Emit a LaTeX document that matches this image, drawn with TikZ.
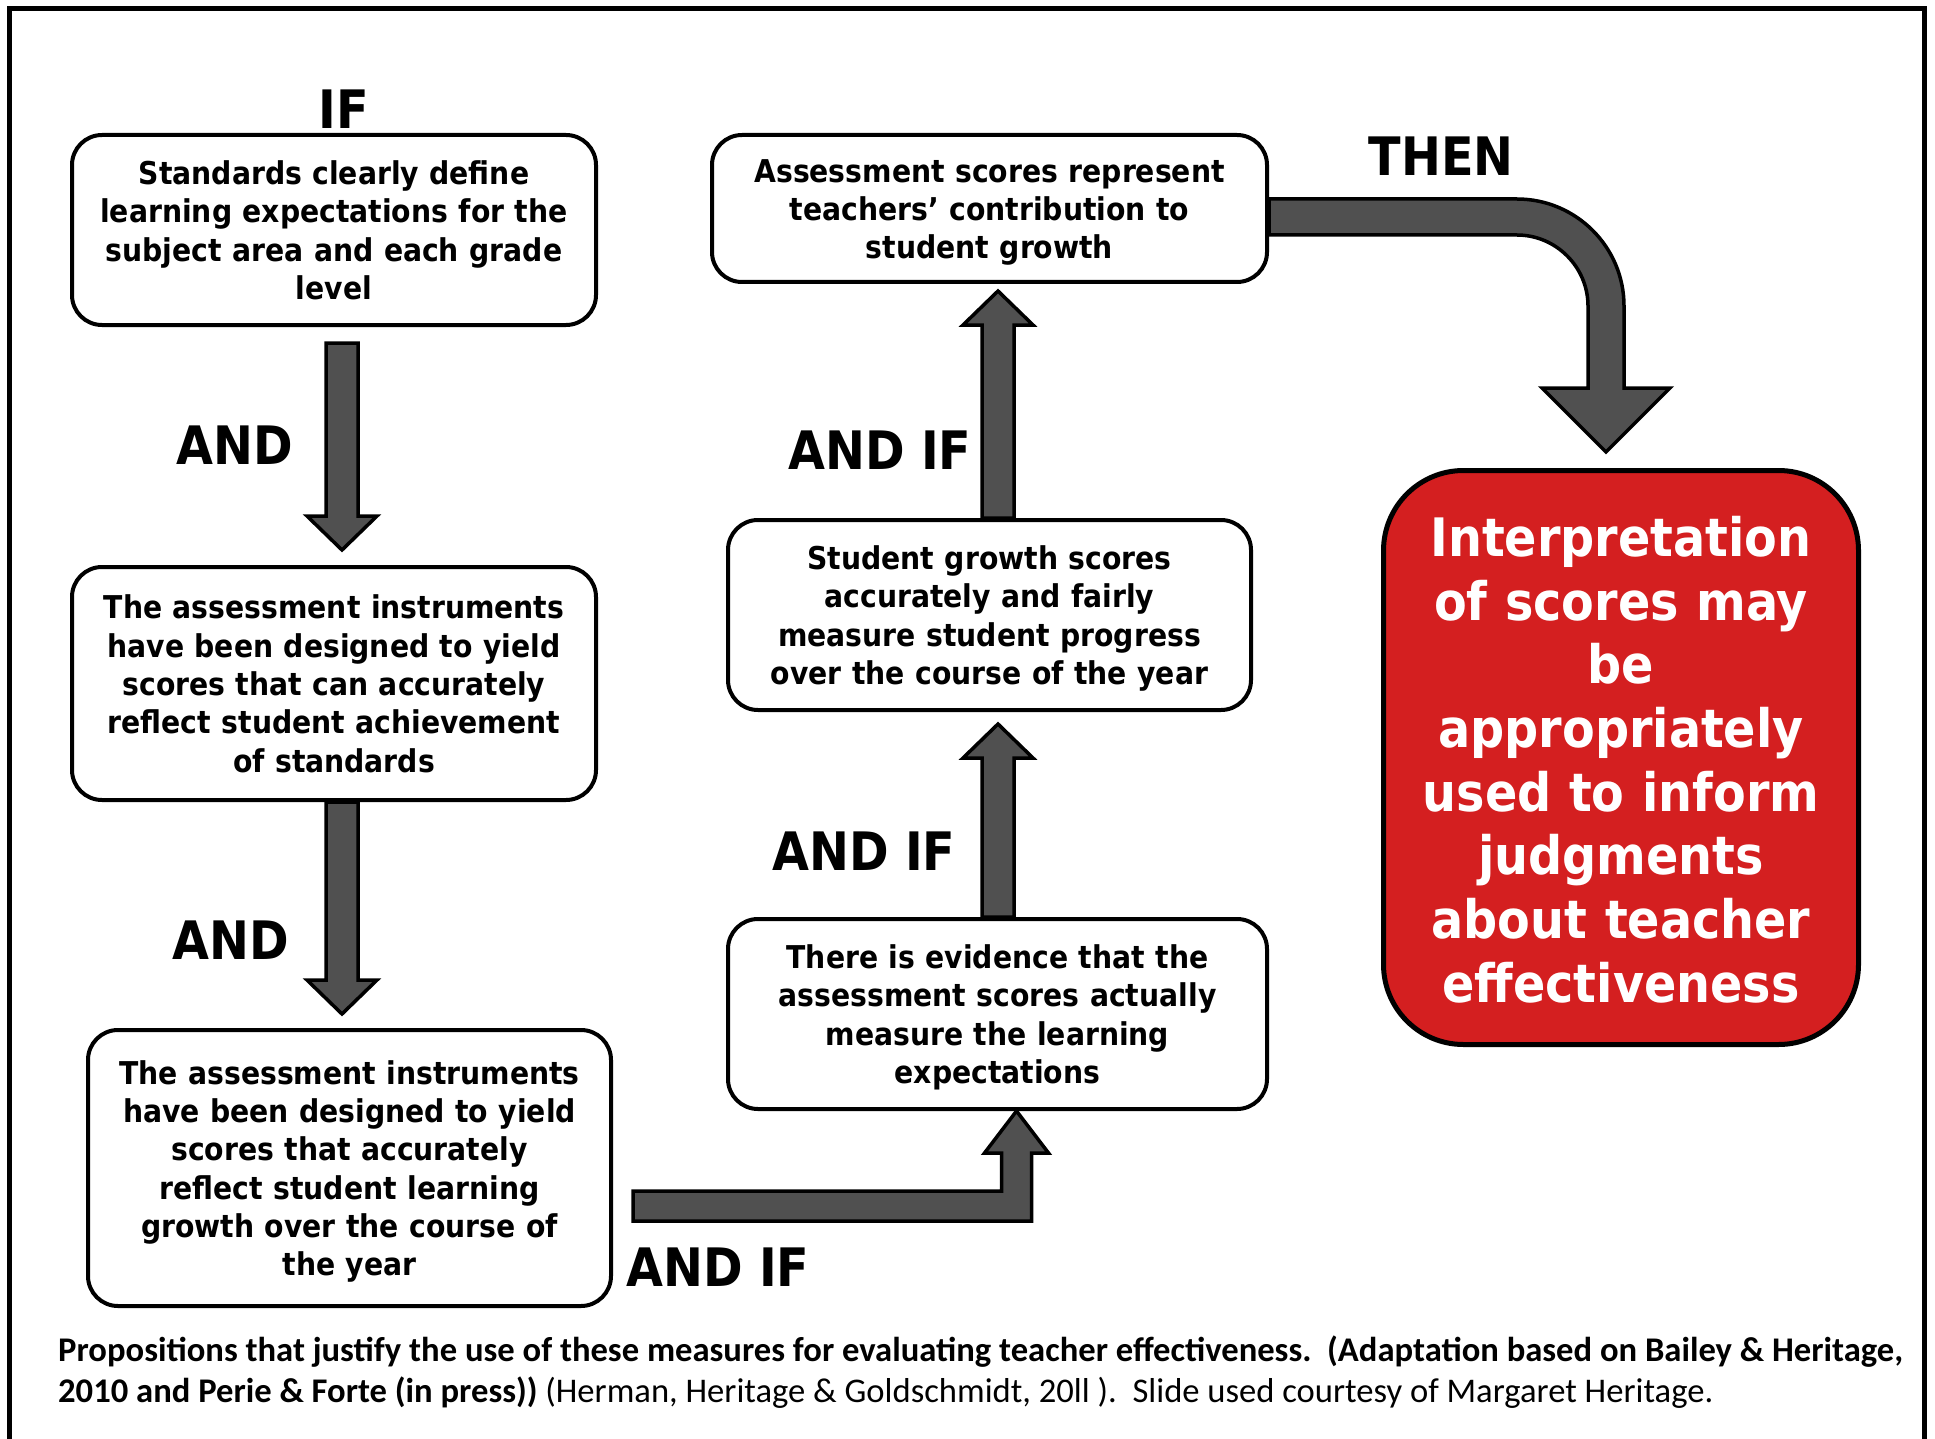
\documentclass[tikz,border=0pt]{standalone}
\usepackage{fontspec}
\setmainfont{DejaVu Sans Condensed}
\newfontfamily\capfont{Carlito}
\usetikzlibrary{calc}
\definecolor{redbox}{RGB}{212,31,32}
\definecolor{arrowgray}{RGB}{80,80,80}
\begin{document}
\begin{tikzpicture}[x=1pt,y=-1pt,
  box/.style={draw, line width=4pt, rounded corners=30pt, align=center, inner sep=0pt, text width=500pt,
    font=\fontsize{31.4}{38.3}\selectfont\bfseries,
    execute at begin node={\vrule width 0pt height 31.3pt depth 0pt},
    execute at end node={\vrule width 0pt height 0pt depth 7.4pt}},
  result/.style={draw, fill=redbox, text=white, line width=5pt, rounded corners=80pt, align=center, inner sep=0pt,
    text width=450pt, font=\fontsize{53}{63.7}\selectfont\bfseries,
    execute at begin node={\vrule width 0pt height 44.6pt depth 0pt}},
  word/.style={inner sep=0pt, font=\fontsize{53}{60}\selectfont\bfseries},
  fat/.style={draw, line width=3.5pt, fill=arrowgray, line join=miter,
    to path={($(\tikztostart)!16pt!90:(\tikztotarget)$)
      -- ($(\tikztotarget)!34pt!(\tikztostart)!16pt!90:(\tikztotarget)$)
      -- ($(\tikztotarget)!34pt!(\tikztostart)!35pt!90:(\tikztotarget)$)
      -- (\tikztotarget)
      -- ($(\tikztotarget)!34pt!(\tikztostart)!35pt!-90:(\tikztotarget)$)
      -- ($(\tikztotarget)!34pt!(\tikztostart)!16pt!-90:(\tikztotarget)$)
      -- ($(\tikztostart)!16pt!-90:(\tikztotarget)$) -- cycle}},
]
\useasboundingbox (0,0) rectangle (1935,1439);
\draw[line width=5pt] (9.5,1450) -- (9.5,9) -- (1924,9) -- (1924,1450);

\node[box, minimum width=524, minimum height=190] (b1) at (334,230) {Standards clearly define\\learning expectations for the\\subject area and each grade\\level};
\node[box, minimum width=524, minimum height=233] (b2) at (334,683.5) {The assessment instruments\\have been designed to yield\\scores that can accurately\\reflect student achievement\\of standards};
\node[box, minimum width=523, minimum height=276] (b3) at (349.5,1168) {The assessment instruments\\have been designed to yield\\scores that accurately\\reflect student learning\\growth over the course of\\the year};
\node[box, minimum width=539, minimum height=190] (b4) at (997.5,1014) {There is evidence that the\\assessment scores actually\\measure the learning\\expectations};
\node[box, minimum width=523, minimum height=190] (b5) at (989.5,615) {Student growth scores\\accurately and fairly\\measure student progress\\over the course of the year};
\node[box, minimum width=555, minimum height=147] (b6) at (989.5,208.5) {Assessment scores represent\\teachers’ contribution to\\student growth};
\node[result, minimum width=475, minimum height=574] (res) at (1621,757.5) {Interpretation\\of scores may\\be\\appropriately\\used to inform\\judgments\\about teacher\\effectiveness};

\node[word] (lif) at (344,109) {IF};
\node[word] (land1) at (235,445) {AND};
\node[word] (land2) at (231,940) {AND};
\node[word] (landif1) at (718,1267) {AND IF};
\node[word] (landif2) at (864,851) {AND IF};
\node[word] (landif3) at (880,450) {AND IF};
\node[word] (lthen) at (1441,156) {THEN};

\draw[fat] ($(b1.south)+(8,16)$) to ($(b2.north)+(8,-15)$);
\draw[fat] ($(b2.south)+(8,0)$) to ($(b3.north)+(-7.5,-14)$);
\draw[fat] ($(b4.north)+(0.5,0)$) to ($(b5.south)+(8.5,12)$);
\draw[fat] ($(b5.north)+(8.5,0)$) to ($(b6.south)+(8.5,7)$);

\coordinate (s5) at ($(b3.east)+(20,38)$);
\coordinate (t5) at ($(b4.south)+(19,0)$);
\draw[fat] ($(s5)+(0,-15)$) -- ($(s5 -| t5)+(-15,-15)$) -- ($(t5)+(-15,42)$) -- ($(t5)+(-32,42)$) -- (t5)
  -- ($(t5)+(32,42)$) -- ($(t5)+(15,42)$) -- ($(s5 -| t5)+(15,15)$) -- ($(s5)+(0,15)$) -- cycle;

\coordinate (s6) at ($(b6.east)+(0,8.5)$);
\coordinate (t6) at ($(res.north)+(-15,-16)$);
\coordinate (k6) at (s6 -| t6);
\draw[fat] ($(s6)+(0,-18)$) -- ($(k6)+(-89,-18)$) .. controls ($(k6)+(-30,-18)$) and ($(k6)+(18,30)$) .. ($(k6)+(18,89)$)
  -- ($(t6)+(18,-64)$) -- ($(t6)+(64,-64)$) -- (t6) -- ($(t6)+(-64,-64)$) -- ($(t6)+(-18,-64)$)
  -- ($(k6)+(-18,89)$) .. controls ($(k6)+(-18,50)$) and ($(k6)+(-50,18)$) .. ($(k6)+(-89,18)$) -- ($(s6)+(0,18)$) -- cycle;

\node[anchor=base west, inner sep=0pt, font=\capfont\fontsize{34.6}{40}\selectfont] (cap1) at (58,1361)
  {\textbf{Propositions that justify the use of these measures for evaluating teacher effectiveness.\ \ (Adaptation based on Bailey \& Heritage,}};
\node[anchor=base west, inner sep=0pt, font=\capfont\fontsize{34.6}{40}\selectfont] (cap2) at (58,1402)
  {\textbf{2010 and Perie \& Forte (in press))} (Herman, Heritage \& Goldschmidt, 20ll ).\ \ Slide used courtesy of Margaret Heritage.};
\end{tikzpicture}
\end{document}
